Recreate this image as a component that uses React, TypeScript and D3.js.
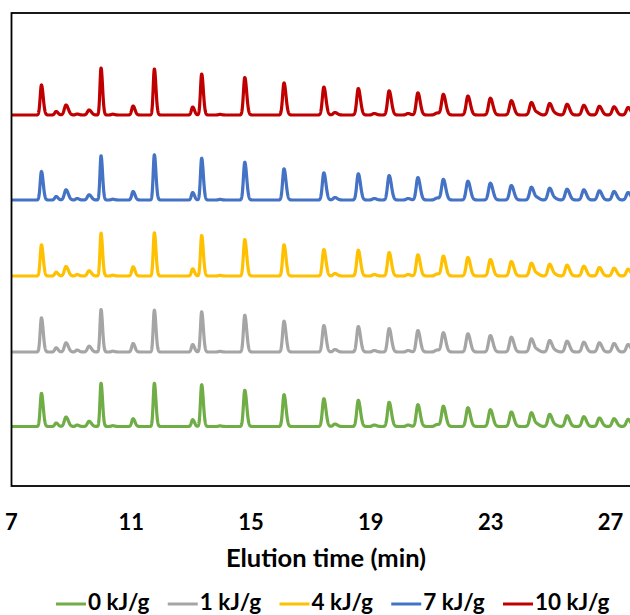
import React, { useEffect, useRef } from "react";
import * as d3 from "d3";

// retention times of the peaks (min), shared by all five runs
const peakTimes = [
  8.0, 8.49, 8.82, 9.19, 9.59, 9.99, 10.38, 11.06, 11.77, 13.05, 13.35, 13.96,
  14.79, 16.1, 17.43, 17.8, 18.58, 19.11, 19.61, 20.24, 20.57, 21.21, 21.42,
  22.24, 22.99, 23.69, 24.36, 24.56, 24.97, 25.16, 25.55, 26.11, 26.63, 27.12,
  27.59,
];
// peak widths (sigma, min)
const peakWidths = [
  0.042, 0.045, 0.055, 0.045, 0.055, 0.036, 0.045, 0.045, 0.038, 0.042, 0.04,
  0.045, 0.045, 0.047, 0.05, 0.055, 0.052, 0.055, 0.054, 0.055, 0.055, 0.065,
  0.057, 0.058, 0.06, 0.06, 0.06, 0.055, 0.06, 0.055, 0.06, 0.06, 0.06, 0.06,
  0.06,
];

// peak heights per energy dose (a.u.)
const heights0 = [
  33.2, 3.5, 9.5, 1.5, 5.2, 43.2, 0.8, 7.8, 43.2, 6.8, 41.8, 0.6, 36.2, 31.8,
  27.8, 2.5, 26.2, 1.5, 24.2, 1.5, 21.8, 2, 20.2, 18.8, 16.8, 14.5, 13.8, 2,
  12.2, 1.2, 10.8, 9.8, 8.5, 7.8, 7.2,
];
const heights1 = [
  34.2, 4.2, 9.2, 2, 5.8, 42.5, 0.8, 8.5, 41.8, 7.5, 40.2, 0.6, 36.8, 30.8,
  26.5, 2.5, 25.5, 1.5, 23.5, 1.5, 21.5, 2, 19.2, 18.2, 16.5, 14.8, 13.2, 2,
  11.5, 1.2, 10.8, 9.8, 9.2, 8.5, 7.5,
];
const heights4 = [
  31.2, 3.8, 9.5, 1.5, 5.2, 42.8, 0.8, 9.2, 43.2, 7.2, 40.5, 0.6, 36.5, 31.2,
  26.5, 2.5, 25.8, 1.5, 23.5, 1.5, 21.2, 2, 19.8, 18.5, 16.5, 14.5, 12.8, 2,
  11.8, 1.2, 10.8, 9.8, 8.5, 7.8, 6.8,
];
const heights7 = [
  28.5, 3.5, 10.2, 1.5, 5.2, 44.2, 0.8, 8.5, 45.2, 7.5, 41.8, 0.6, 37.8, 31.2,
  27.2, 2.5, 26.2, 1.5, 24.5, 1.5, 22.5, 2, 20.5, 18.8, 16.8, 14.5, 12.8, 2,
  11.8, 1.2, 10.8, 10.2, 9.2, 8.5, 7.5,
];
const heights10 = [
  30, 3.5, 10, 1, 5, 47, 0.8, 9, 46, 8, 41, 0.6, 37.5, 32, 28, 2.5, 26.5, 1.5,
  24.2, 1.5, 22.2, 2, 20.5, 19, 16.8, 14.3, 12.5, 2, 11.5, 1.2, 10.7, 9.7, 8.7,
  8.2, 7.5,
];

// vertical offset of each trace (a.u.)
const seriesNames = ["0 kJ/g", "1 kJ/g", "4 kJ/g", "7 kJ/g", "10 kJ/g"];
const seriesHeights = [heights0, heights1, heights4, heights7, heights10];
const seriesOffsets = [59.5, 134, 210, 286, 371];
const seriesColors = ["#70AD47", "#A5A5A5", "#FFC000", "#4472C4", "#C00000"];

const xTicks = [7, 11, 15, 19, 23, 27];

function Chromatogram() {
  const svgRef = useRef<SVGSVGElement>(null);
  const width = 630;
  const height = 615;

  useEffect(() => {
    const svg = d3.select(svgRef.current);
    svg.selectAll("*").remove();

    const plot = { left: 11.5, right: 640.4, top: 13, bottom: 486 };
    const font = "Lato, 'Open Sans', sans-serif";

    const x = d3.scaleLinear().domain([7, 28]).range([plot.left, plot.right]);
    const y = d3.scaleLinear().domain([0, 473]).range([plot.bottom, plot.top]);

    svg
      .append("defs")
      .append("clipPath")
      .attr("id", "plot-clip")
      .append("rect")
      .attr("x", plot.left)
      .attr("y", plot.top)
      .attr("width", plot.right - plot.left)
      .attr("height", plot.bottom - plot.top);

    // signal of one run at time t (slightly tailing peaks)
    const signal = (hs: number[], t: number) => {
      let s = 0;
      peakTimes.forEach((rt, i) => {
        const sd = t < rt ? peakWidths[i] : peakWidths[i] * 1.4;
        s += hs[i] * Math.exp(-0.5 * ((t - rt) / sd) ** 2);
      });
      return s;
    };

    const times = d3.range(7, 28.0001, 0.004);

    const line = d3
      .line<number[]>()
      .x((d) => x(d[0]))
      .y((d) => y(d[1]));

    const traces = svg.append("g").attr("clip-path", "url(#plot-clip)");
    seriesNames.forEach((name, k) => {
      const pts = times.map((t) => [
        t,
        seriesOffsets[k] + signal(seriesHeights[k], t),
      ]);
      traces
        .append("path")
        .datum(pts)
        .attr("fill", "none")
        .attr("stroke", seriesColors[k])
        .attr("stroke-width", 3.2)
        .attr("stroke-linejoin", "round")
        .attr("d", line);
    });

    // plot area border
    svg
      .append("rect")
      .attr("x", plot.left)
      .attr("y", plot.top)
      .attr("width", plot.right - plot.left)
      .attr("height", plot.bottom - plot.top)
      .attr("fill", "none")
      .attr("stroke", "#000")
      .attr("stroke-width", 1.8);

    // x tick labels
    svg
      .append("g")
      .selectAll("text")
      .data(xTicks)
      .join("text")
      .attr("x", (d) => x(d))
      .attr("y", 529.5)
      .attr("text-anchor", "middle")
      .style("font-family", font)
      .style("font-weight", "bold")
      .style("font-size", "22px")
      .text((d) => d);

    svg
      .append("text")
      .attr("x", 326)
      .attr("y", 566.5)
      .attr("text-anchor", "middle")
      .style("font-family", font)
      .style("font-weight", "bold")
      .style("font-size", "25.5px")
      .text("Elution time (min)");

    // legend
    const legend = svg
      .append("g")
      .selectAll("g")
      .data(seriesNames)
      .join("g")
      .attr("transform", (d, i) => `translate(${56 + i * 111.75},604)`);

    legend
      .append("line")
      .attr("x1", 0)
      .attr("x2", 30)
      .attr("stroke", (d, i) => seriesColors[i])
      .attr("stroke-width", 3);

    legend
      .append("text")
      .attr("x", 32)
      .attr("y", 5.5)
      .style("font-family", font)
      .style("font-weight", "bold")
      .style("font-size", "22.5px")
      .text((d) => d);
  }, []);

  return (
    <svg
      ref={svgRef}
      width={width}
      height={height}
      style={{ position: "absolute", left: 0, top: 0, background: "#fff" }}
    ></svg>
  );
}

export default function App() {
  return <Chromatogram />;
}
